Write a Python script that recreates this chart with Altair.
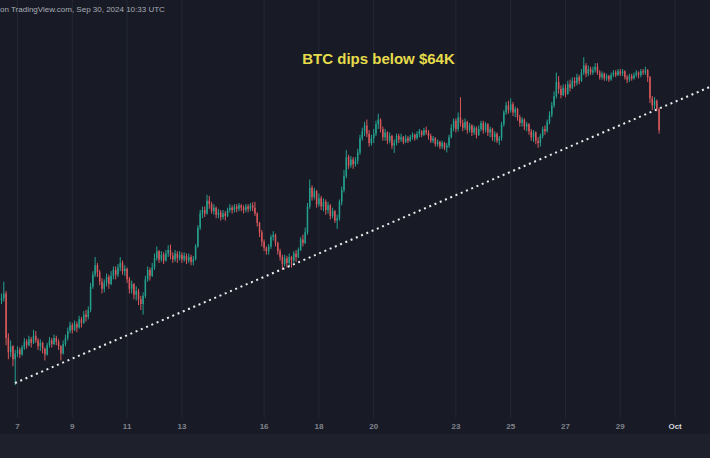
import altair as alt
import pandas as pd
import numpy as np

# ---------------- data (BTC/USD, 2-hour candles, UTC) ----------------
first_candle = "2024-09-06 08:00"
candle_hours = 2
first_open = 56050

closes = [
    56200, 56300, 56500, 54600, 54000, 54250, 53700, 53950,
    54100, 53900, 54200, 54450, 54300, 54550, 54400, 54700, 54500, 54250, 54400, 54150,
    53900, 54300, 54500, 54350, 54600, 54450, 54250, 53950, 54350, 54600, 54900, 55150,
    54950, 55200, 55050, 55400, 55250, 55600, 55500, 55800, 56800, 57300, 57700, 57400,
    57000, 56700, 56950, 57200, 56900, 57250, 57500, 57300, 57600, 57800, 57450, 57550,
    57100, 56700, 56900, 56450, 56600, 56250, 56050, 56400, 57100, 57500, 57250, 57600,
    58000, 58300, 57950, 58150, 57900, 58200, 58350, 58100, 57950, 58200, 58000, 58150,
    57950, 58100, 57900, 58050, 57850, 57950, 58500, 59300, 59900, 60050, 59900, 60450,
    60300, 60000, 60150, 59850, 59950, 59750, 59900, 59800, 60050, 60150, 60050, 60200,
    60100, 60250, 60150, 60050, 60200, 60100, 60250, 60150, 59900, 59500, 59100, 58700,
    58450, 58300, 58500, 58900, 59000, 58650, 58300, 58050, 57750, 58000, 57800, 58050,
    57900, 58200, 58050, 58350, 58800, 58650, 59100, 60200, 61000, 60600, 60850, 60300,
    60550, 60200, 60400, 60050, 60250, 59800, 60000, 59600, 59700, 60400, 60900, 61500,
    62300, 61950, 62200, 62000, 62150, 62500, 63100, 63400, 63650, 63300, 62900, 63100,
    63300, 63700, 63900, 63500, 63150, 63350, 63000, 63200, 62800, 62900, 63200, 63050,
    63150, 62950, 63100, 63000, 63150, 63250, 63100, 63300, 63400, 63250, 63450, 63350,
    63200, 63000, 63100, 62850, 62950, 62750, 62900, 62700, 62800, 63150, 63550, 63850,
    63500, 64000, 63750, 63550, 63800, 63450, 63650, 63350, 63550, 63250, 63500, 63750,
    63450, 63700, 63350, 63500, 63150, 63300, 63000, 63100, 63700, 64200, 64500, 64300,
    64550, 64200, 64350, 64000, 63750, 63900, 63600, 63700, 63400, 63150, 63350, 63000,
    62900, 63200, 63500, 63400, 63800, 64100, 64500, 64900, 65500, 65200, 64950, 65250,
    65000, 65400, 65250, 65550, 65450, 65700, 65550, 65900, 66200, 65850, 66050, 65900,
    66000, 66150, 65900, 65700, 65850, 65650, 65750, 65600, 65800, 65900, 65800, 65950,
    65850, 65950, 65700, 65600, 65750, 65650, 65800, 65900, 65800, 65950, 65900, 66000,
    65700, 64800, 64500, 64700, 64350, 63450,
]

highs = [
    56350, 56500, 57000, 56600, 54800, 54500, 54300, 54100,
    54250, 54200, 54300, 54600, 54550, 54700, 54650, 54950, 54900, 54600, 54550, 54450,
    54200, 54400, 54650, 54600, 54750, 54700, 54550, 54300, 54500, 54750, 55050, 55300,
    55250, 55350, 55300, 55550, 55500, 55750, 55800, 55950, 56950, 57450, 58050, 57800,
    57500, 57150, 57100, 57350, 57300, 57450, 57650, 57650, 57750, 58050, 57900, 57700,
    57600, 57200, 57050, 56950, 56800, 56700, 56400, 56550, 57250, 57650, 57600, 57800,
    58200, 58500, 58350, 58300, 58250, 58350, 58550, 58580, 58250, 58350, 58300, 58300,
    58250, 58250, 58200, 58200, 58150, 58100, 58600, 59400, 60050, 60200, 60200, 60700,
    60650, 60400, 60300, 60200, 60100, 60050, 60050, 60000, 60150, 60300, 60250, 60300,
    60300, 60350, 60300, 60250, 60300, 60300, 60350, 60380, 60400, 59950, 59550, 59200,
    58800, 58500, 58600, 59000, 59150, 59050, 58700, 58400, 58150, 58150, 58100, 58200,
    58100, 58300, 58350, 58450, 58900, 59000, 59300, 60350, 61350, 61100, 61000, 60900,
    60750, 60650, 60550, 60500, 60400, 60300, 60150, 60050, 59850, 60500, 61050, 61750,
    62600, 62400, 62350, 62300, 62300, 62650, 63250, 63550, 63800, 63900, 63450, 63250,
    63500, 63850, 64150, 63950, 63600, 63500, 63400, 63350, 63250, 63050, 63300, 63300,
    63300, 63200, 63250, 63200, 63250, 63350, 63300, 63400, 63500, 63450, 63550, 63600,
    63450, 63300, 63200, 63150, 63050, 63000, 63000, 62950, 62900, 63250, 63700, 63950,
    63950, 64200, 64850, 63900, 63950, 63850, 63750, 63700, 63650, 63600, 63650, 63850,
    63850, 63800, 63750, 63600, 63550, 63400, 63350, 63200, 63800, 64300, 64650, 64700,
    64800, 64650, 64450, 64400, 64100, 64000, 63950, 63800, 63750, 63500, 63450, 63400,
    63150, 63300, 63600, 63650, 63900, 64250, 64650, 65100, 65900, 65750, 65350, 65400,
    65400, 65550, 65600, 65700, 65700, 65850, 65800, 66050, 66550, 66300, 66200, 66150,
    66150, 66300, 66300, 66000, 65950, 65900, 65850, 65800, 65900, 66000, 66000, 66050,
    66050, 66050, 66000, 65800, 65850, 65850, 65900, 66000, 65950, 66050, 66050, 66150,
    66050, 65750, 64900, 64850, 64750, 64400,
]

lows = [
    55900, 56050, 56150, 54300, 53700, 53800, 53400, 52600,
    53800, 53750, 53850, 54100, 54150, 54250, 54200, 54350, 54400, 54100, 54050, 53950,
    53650, 53850, 54200, 54200, 54300, 54300, 54100, 53650, 53900, 54250, 54500, 54800,
    54800, 54900, 54850, 55000, 55050, 55200, 55300, 55400, 55700, 56700, 57200, 57200,
    56850, 56500, 56550, 56800, 56700, 56850, 57100, 57100, 57200, 57450, 57300, 57250,
    56950, 56500, 56500, 56250, 56200, 56000, 55800, 55600, 56300, 57000, 57050, 57200,
    57500, 57900, 57800, 57850, 57750, 57850, 58050, 57950, 57800, 57850, 57800, 57900,
    57800, 57850, 57750, 57800, 57700, 57700, 57900, 58450, 59200, 59700, 59750, 59850,
    60100, 59900, 59850, 59700, 59700, 59600, 59650, 59600, 59750, 59950, 59900, 59950,
    59950, 60000, 60000, 59900, 59950, 59950, 60000, 60000, 59800, 59350, 58900, 58500,
    58300, 58150, 58150, 58400, 58750, 58500, 58150, 57900, 57500, 57650, 57600, 57650,
    57600, 57800, 57850, 58000, 58300, 58500, 58600, 59000, 60100, 60450, 60500, 60150,
    60200, 60050, 60000, 59850, 59900, 59650, 59700, 59500, 59250, 59600, 60250, 60800,
    61400, 61800, 61850, 61800, 61900, 62000, 62400, 63000, 63200, 63150, 62750, 62800,
    62900, 63200, 63500, 63350, 63000, 63000, 62850, 62900, 62650, 62480, 62800, 62900,
    62950, 62850, 62900, 62900, 62950, 63050, 63000, 63050, 63150, 63150, 63200, 63250,
    63050, 62900, 62900, 62750, 62750, 62650, 62650, 62600, 62500, 62700, 63100, 63400,
    63350, 63400, 63600, 63400, 63450, 63300, 63350, 63200, 63250, 63100, 63200, 63400,
    63300, 63350, 63200, 63150, 63000, 62950, 62900, 62820, 63000, 63600, 64100, 64150,
    64200, 64050, 64000, 63850, 63600, 63600, 63450, 63400, 63250, 63000, 62950, 62850,
    62700, 62750, 63100, 63250, 63350, 63700, 64000, 64400, 64800, 65000, 64800, 64900,
    64850, 64950, 65100, 65200, 65300, 65350, 65400, 65500, 65800, 65700, 65750, 65800,
    65800, 65900, 65800, 65600, 65600, 65550, 65550, 65500, 65550, 65700, 65700, 65750,
    65750, 65750, 65600, 65450, 65500, 65550, 65600, 65700, 65650, 65700, 65800, 65800,
    65500, 64600, 64300, 64350, 64250, 63300,
]

tick_days = [7, 9, 11, 13, 16, 18, 20, 23, 25, 27, 29, 31]
tick_labels = ["7", "9", "11", "13", "16", "18", "20", "23", "25", "27", "29", "Oct"]
grid_prices = [52000, 53000, 54000, 55000, 56000, 57000, 58000, 59000, 60000,
               61000, 62000, 63000, 64000, 65000, 66000, 67000, 68000]

trend_times = ["2024-09-06 21:49", "2024-10-02 06:35"]
trend_prices = [52690, 65290]

x_window = ["2024-09-06 08:40", "2024-10-02 06:35"]
price_window = [50520, 68987]

header_text = "on TradingView.com, Sep 30, 2024 10:33 UTC"
note_text = "BTC dips below $64K"

# ---------------- styling ----------------
BG = "#181b26"
BAND = "#1e212b"
GRID = "#242834"
SEP = "#2a2e39"
UP = "#24a08f"
DOWN = "#d8585c"
FONT = "Liberation Sans"


def to_day(ts):
    return (pd.Timestamp(ts) - pd.Timestamp("2024-09-01")) / pd.Timedelta(days=1) + 1


n = len(closes)
times = pd.Timestamp(first_candle) + pd.to_timedelta(np.arange(n) * candle_hours, unit="h")
candles = pd.DataFrame({"close": closes, "high": highs, "low": lows})
candles["open"] = [first_open] + closes[:-1]
candles["day"] = [to_day(t) for t in times]
candles["hi"] = candles[["high", "open", "close"]].max(axis=1)
candles["lo"] = candles[["low", "open", "close"]].min(axis=1)
candles["dir"] = np.where(candles["close"] >= candles["open"], "up", "down")

ticks = pd.DataFrame({"day": tick_days, "label": tick_labels})
trend = pd.DataFrame({"day": [to_day(t) for t in trend_times], "price": trend_prices})
header = pd.DataFrame({"text": [header_text]})
note = pd.DataFrame({"text": [note_text]})

xs = alt.Scale(domain=[to_day(x_window[0]), to_day(x_window[1])], nice=False, zero=False)
ys = alt.Scale(domain=price_window, nice=False, zero=False)
col = alt.Color("dir:N", scale=alt.Scale(domain=["up", "down"], range=[UP, DOWN]), legend=None)

vgrid = alt.Chart(ticks).mark_rule(color=GRID, strokeWidth=1).encode(
    x=alt.X("day:Q", scale=xs,
            axis=alt.Axis(offset=-16, labels=False, ticks=False, grid=False,
                          domain=True, domainColor=SEP, domainWidth=1, title=None)),
    y=alt.value(0),
    y2=alt.value(418),
)

wicks = alt.Chart(candles).mark_rule(strokeWidth=1).encode(
    x=alt.X("day:Q", scale=xs, axis=None),
    y=alt.Y("lo:Q", scale=ys,
            axis=alt.Axis(values=grid_prices, labels=False, ticks=False, domain=False,
                          grid=True, gridColor=GRID, gridWidth=1, title=None)),
    y2="hi:Q",
    color=col,
)

bodies = alt.Chart(candles).mark_rule(strokeWidth=1.5).encode(
    x=alt.X("day:Q", scale=xs, axis=None),
    y=alt.Y("open:Q", scale=ys, axis=None),
    y2="close:Q",
    color=col,
)

trendline = alt.Chart(trend).mark_line(
    color="#ececec", strokeWidth=2, strokeDash=[2, 3.7], clip=True
).encode(
    x=alt.X("day:Q", scale=xs, axis=None),
    y=alt.Y("price:Q", scale=ys, axis=None),
)

tick_text = alt.Chart(ticks).mark_text(
    font=FONT, fontSize=8, fontWeight="bold", baseline="middle", align="center"
).encode(
    x=alt.X("day:Q", scale=xs, axis=None),
    y=alt.value(427),
    text="label:N",
    color=alt.condition("datum.label == 'Oct'", alt.value("#d1d4dc"), alt.value("#80838d")),
)

header_mark = alt.Chart(header).mark_text(
    font=FONT, fontSize=8, align="left", baseline="middle", color="#a9acb5"
).encode(x=alt.value(0), y=alt.value(10), text="text:N")

note_mark = alt.Chart(note).mark_text(
    font=FONT, fontSize=15, fontWeight="bold", align="center", baseline="middle", color="#e6dc4b"
).encode(x=alt.value(378.5), y=alt.value(59), text="text:N")

chart = alt.layer(
    vgrid, wicks, bodies, trendline, tick_text, header_mark, note_mark
).properties(
    width=710,
    height=434,
    autosize="none",
    padding={"left": 0, "top": 0, "right": 0, "bottom": 24},
    background=BAND,
).configure_view(fill=BG, stroke=None)

chart.save("out.html", embed_options={"renderer": "svg", "actions": False})
